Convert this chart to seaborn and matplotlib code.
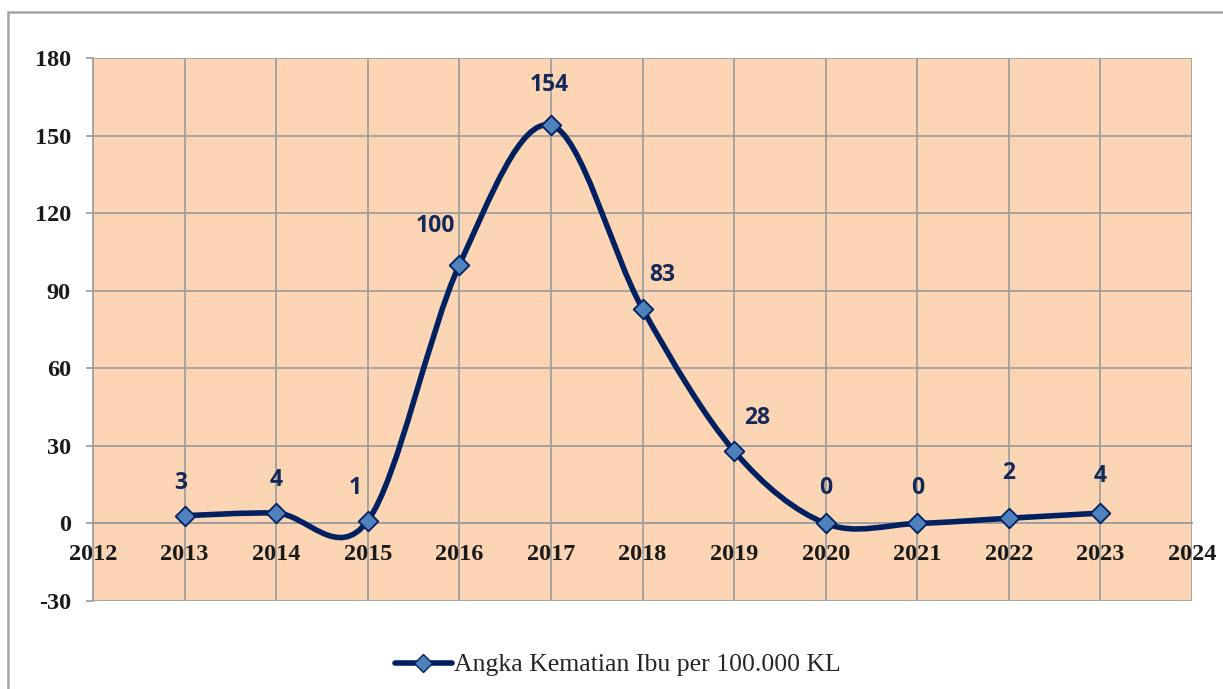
import matplotlib
matplotlib.use("Agg")
import matplotlib.pyplot as plt
from matplotlib.path import Path
from matplotlib.patches import PathPatch, Rectangle
from matplotlib.lines import Line2D
import seaborn as sns

# data
years = [2013, 2014, 2015, 2016, 2017, 2018, 2019, 2020, 2021, 2022, 2023]
aki = [3, 4, 1, 100, 154, 83, 28, 0, 0, 2, 4]
series_name = "Angka Kematian Ibu per 100.000 KL"
x_ticks = list(range(2012, 2025))
y_ticks = [-30, 0, 30, 60, 90, 120, 150, 180]

# label offsets in pixels (dx, dy)
label_offsets = [(-4, 33), (0, 33), (-12, 33), (-24, 39), (-2, 40), (20, 34),
                 (23, 33), (0, 35), (0, 35), (0, 45), (0, 37)]

line_col = "#002060"
marker_col = "#4F81BD"
bg_col = "#FCD5B4"
grid_col = "#A0A0A0"

sns.set_theme(style="white")
plt.rcParams["font.family"] = ["Liberation Serif", "DejaVu Serif"]
plt.rcParams["axes.unicode_minus"] = False

fig = plt.figure(figsize=(12.23, 6.89), dpi=100)
W, H = 1223, 689
ax = fig.add_axes([93 / W, 1 - 601 / H, (1192 - 93) / W, (601 - 58) / H])
ax.set_facecolor(bg_col)

# outer chart border (Excel chart area)
fig.patches.append(Rectangle((8 / W, -0.1), 1.2, 1 - 12 / H + 0.1, transform=fig.transFigure,
                             fill=False, edgecolor="#A6A6A6", linewidth=1.8, zorder=0))


def smooth_path(xs, ys):
    # Excel-style smoothed line: Catmull-Rom segments as cubic Bezier curves
    pts = list(zip(xs, ys))
    verts = [pts[0]]
    codes = [Path.MOVETO]
    n = len(pts)
    for i in range(n - 1):
        p0 = pts[i - 1] if i > 0 else pts[i]
        p1 = pts[i]
        p2 = pts[i + 1]
        p3 = pts[i + 2] if i + 2 < n else pts[i + 1]
        c1 = (p1[0] + (p2[0] - p0[0]) / 6, p1[1] + (p2[1] - p0[1]) / 6)
        c2 = (p2[0] - (p3[0] - p1[0]) / 6, p2[1] - (p3[1] - p1[1]) / 6)
        verts += [c1, c2, p2]
        codes += [Path.CURVE4] * 3
    return Path(verts, codes)


ax.add_patch(PathPatch(smooth_path(years, aki), facecolor="none", edgecolor=line_col,
                       linewidth=4.0, capstyle="round", joinstyle="round", zorder=3))
sns.scatterplot(x=years, y=aki, marker="D", s=100, color=marker_col, edgecolor=line_col,
                linewidth=1.3, zorder=4, ax=ax, legend=False)

for (xv, yv), (dx, dy) in zip(zip(years, aki), label_offsets):
    ax.annotate(str(yv), (xv, yv), xytext=(dx * 0.72, dy * 0.72), textcoords="offset points",
                ha="center", va="center", fontsize=16.5, fontweight="bold",
                family=["Open Sans", "DejaVu Sans"], color="#14285A", zorder=5)

ax.set_xlim(2012, 2024)
ax.set_ylim(-30, 180)
ax.set_xticks(x_ticks)
ax.set_yticks(y_ticks)
ax.grid(True, color=grid_col, linewidth=1.3)
ax.set_axisbelow(True)

for s in ["top", "right"]:
    ax.spines[s].set_visible(False)
ax.spines["left"].set_color(grid_col)
ax.spines["left"].set_linewidth(1.3)
ax.spines["bottom"].set_position(("data", 0))
ax.spines["bottom"].set_color(grid_col)
ax.spines["bottom"].set_linewidth(1.3)

ax.tick_params(axis="y", length=5, width=1.3, color=grid_col, pad=11,
               labelsize=17.5, labelcolor="#1A1A1A", left=True)
ax.tick_params(axis="x", length=0, pad=15, labelsize=17.5, labelcolor="#1A1A1A")
for lab in ax.get_xticklabels() + ax.get_yticklabels():
    lab.set_fontweight("bold")
ax.set_xlabel("")
ax.set_ylabel("")

handle = Line2D([], [], color=line_col, linewidth=4.0, marker="D", markersize=9,
                markerfacecolor=marker_col, markeredgecolor=line_col)
fig.legend([handle], [series_name], loc="center", bbox_to_anchor=(618 / W, 1 - 665 / H),
           frameon=False, fontsize=18.5, handlelength=2.2, handletextpad=0.1)

fig.savefig("out.png", dpi=100)
